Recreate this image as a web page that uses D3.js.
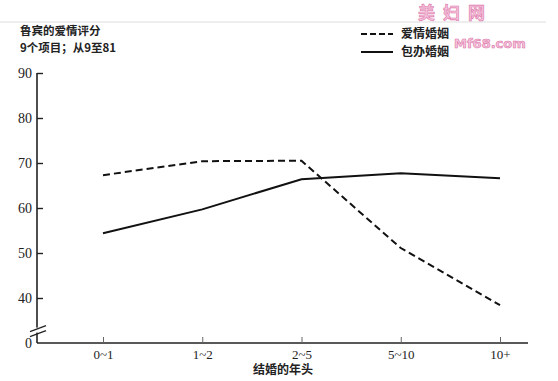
<!DOCTYPE html>
<html><head><meta charset="utf-8">
<script src="https://cdn.jsdelivr.net/npm/d3@7"></script>
<style>body{margin:0;background:#fff}svg{display:block}</style>
</head><body><svg id="c" width="558" height="381"></svg>
<script>
const categories = ["0~1","1~2","2~5","5~10","10+"];
const loveValues = [67.3, 70.4, 70.5, 51.1, 38.4];
const arrangedValues = [54.4, 59.7, 66.4, 67.7, 66.6];
const seriesNames = ["爱情婚姻","包办婚姻"];
const yTickValues = [40,50,60,70,80,90];
const titleLines = ["鲁宾的爱情评分","9个项目；从9至81"];
const xTitle = "结婚的年头";

const svg = d3.select("#c");
const font = "'Noto Sans CJK SC','Liberation Serif',serif";
const x = d3.scalePoint().domain(categories).range([103,500]);
const y = d3.scaleLinear().domain([30,90]).range([343,73]);

// faint top rule
svg.append("line").attr("x1",0).attr("x2",546).attr("y1",22).attr("y2",22).attr("stroke","#ddd").attr("stroke-width",1.2);

// axes
svg.append("line").attr("x1",37).attr("x2",37).attr("y1",y(90)).attr("y2",y(30)).attr("stroke","#222").attr("stroke-width",1.6);
svg.append("line").attr("x1",37).attr("x2",528).attr("y1",y(30)).attr("y2",y(30)).attr("stroke","#222").attr("stroke-width",1.6);

const yAxis = d3.axisRight(y).tickValues(yTickValues).tickSize(6).tickFormat(d3.format("d"));
const gy = svg.append("g").attr("transform","translate(37,0)").call(yAxis);
gy.select(".domain").remove();
gy.selectAll("line").attr("stroke","#222").attr("stroke-width",1.4);
gy.selectAll("text").attr("x",-5).attr("text-anchor","end").attr("font-family","'Liberation Serif',serif").attr("font-size",14).attr("fill","#222");
svg.append("text").attr("x",32).attr("y",y(30)).attr("dy","0.35em").attr("text-anchor","end")
  .attr("font-family","'Liberation Serif',serif").attr("font-size",14).attr("fill","#222").text("0");
// break marks
svg.append("rect").attr("x",35).attr("y",y(33.2)-1).attr("width",4).attr("height",5).attr("fill","#fff");
[0,5].forEach(o=>{
  svg.append("line").attr("x1",30).attr("x2",46).attr("y1",y(33.2)+o+3).attr("y2",y(33.2)+o-3).attr("stroke","#222").attr("stroke-width",1.3);
});

const xAxis = d3.axisTop(x).tickSize(6).tickFormat(d=>d);
const gx = svg.append("g").attr("transform",`translate(0,${y(30)})`).call(xAxis);
gx.select(".domain").remove();
gx.selectAll("line").attr("stroke","#666").attr("stroke-width",1);
gx.selectAll("text").attr("y",11).attr("dy","0.35em").attr("font-family","'Liberation Serif',serif").attr("font-size",13).attr("fill","#222");

svg.append("text").attr("x",283).attr("y",370).attr("dy","0.35em").attr("text-anchor","middle")
  .attr("font-family",font).attr("font-size",12).attr("font-weight","bold").attr("fill","#222").text(xTitle);

// lines
const line = d3.line().x((d,i)=>x(categories[i])).y(d=>y(d));
svg.append("path").datum(loveValues).attr("d",line).attr("fill","none").attr("stroke","#111").attr("stroke-width",2).attr("stroke-dasharray","7,4");
svg.append("path").datum(arrangedValues).attr("d",line).attr("fill","none").attr("stroke","#111").attr("stroke-width",2);

// titles
titleLines.forEach((t,i)=>{
  svg.append("text").attr("x",20).attr("y",31+i*17).attr("dy","0.35em").attr("font-family",font)
    .attr("font-size",11.5).attr("font-weight","bold").attr("fill","#222").text(t);
});

// watermark (behind legend)
svg.append("text").attr("x",418).attr("y",13).attr("dy","0.35em").attr("font-family",font).attr("font-size",17).attr("font-weight","bold")
  .attr("fill","#f2b8d4").attr("stroke","#d9609c").attr("stroke-width",0.6).attr("letter-spacing",8).attr("opacity",0.85).text("美妇网");
svg.append("text").attr("x",454).attr("y",43).attr("dy","0.35em").attr("font-family","'DejaVu Sans',sans-serif").attr("font-size",13).attr("font-weight","bold")
  .attr("fill","#f2b8d4").attr("stroke","#d9609c").attr("stroke-width",0.6).attr("opacity",0.85).text("Mf68.com");

// legend
[[34,"6,3"],[52,null]].forEach(([ly,da],i)=>{
  const l = svg.append("line").attr("x1",361).attr("x2",393).attr("y1",ly).attr("y2",ly).attr("stroke","#111").attr("stroke-width",2);
  if(da) l.attr("stroke-dasharray",da);
  svg.append("text").attr("x",401).attr("y",ly).attr("dy","0.35em").attr("font-family",font)
    .attr("font-size",12).attr("font-weight","bold").attr("fill","#222").text(seriesNames[i]);
});
</script></body></html>
